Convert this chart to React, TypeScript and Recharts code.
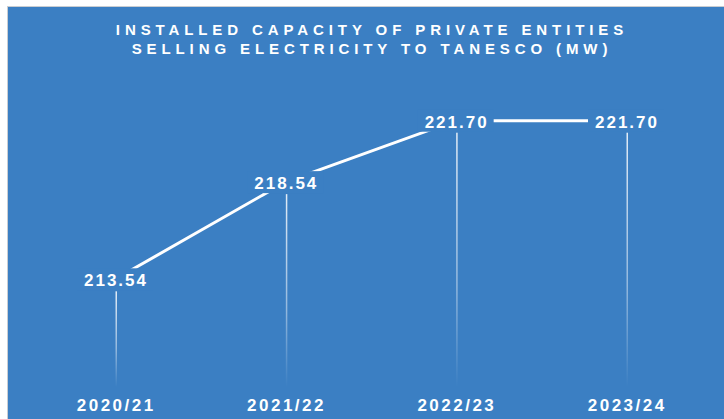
import React from 'react';
import { LineChart, Line, XAxis, YAxis, LabelList } from 'recharts';

// data
const years = ['2020/21', '2021/22', '2022/23', '2023/24'];
const capacity = [213.54, 218.54, 221.7, 221.7];

const chartData = years.map((year, i) => ({ year, capacity: capacity[i] }));

const BLUE = '#3b7fc3';
const FONT = '"Liberation Sans", Arial, Helvetica, sans-serif';
const PLOT_BOTTOM = 380;

const YearTick = (props: any) => {
    const { x, y, payload } = props;
    return (
        <text
            x={x + 1.2}
            y={y}
            dy="0.71em"
            textAnchor="middle"
            fill="#ffffff"
            fontSize={17}
            fontWeight={700}
            fontFamily={FONT}
            letterSpacing={2.5}
        >
            {payload.value}
        </text>
    );
};

// value label sits on the point with a blue box behind it, plus a fading drop line
const ValueLabel = (props: any) => {
    const { x, y, value } = props;
    return (
        <g>
            <rect x={x + 0.5} y={y + 12} width={1.5} height={PLOT_BOTTOM - y - 12} fill="url(#dropFade)" />
            <rect x={x - 38} y={y - 11} width={76} height={22} fill={BLUE} />
            <text
                x={x + 1}
                y={y + 7}
                textAnchor="middle"
                fill="#ffffff"
                fontSize={17}
                fontWeight={700}
                fontFamily={FONT}
                letterSpacing={2}
            >
                {Number(value).toFixed(2)}
            </text>
        </g>
    );
};

export default function App() {
    return (
        <div
            style={{
                position: 'fixed',
                left: 7,
                top: 6,
                borderTop: '1px solid #c9cdd2',
                borderLeft: '1px solid #c9cdd2',
                background: BLUE,
                width: 716,
                height: 412,
            }}
        >
            <div
                style={{
                    position: 'absolute',
                    top: 12.7,
                    left: 0,
                    width: 716,
                    boxSizing: 'border-box',
                    paddingLeft: 12,
                    textAlign: 'center',
                    color: '#ffffff',
                    fontFamily: FONT,
                    fontWeight: 700,
                    fontSize: 15,
                    lineHeight: '19px',
                    letterSpacing: 4.9,
                }}
            >
                <div>INSTALLED CAPACITY OF PRIVATE ENTITIES</div>
                <div>SELLING ELECTRICITY TO TANESCO (MW)</div>
            </div>
            <LineChart width={716} height={412} data={chartData} margin={{ top: 69, right: 0, bottom: 1, left: 0 }}>
                <defs>
                    <linearGradient id="dropFade" x1="0" y1="0" x2="0" y2="1">
                        <stop offset="0%" stopColor="#ffffff" stopOpacity={0.85} />
                        <stop offset="60%" stopColor="#ffffff" stopOpacity={0.45} />
                        <stop offset="100%" stopColor="#ffffff" stopOpacity={0} />
                    </linearGradient>
                </defs>
                <XAxis
                    dataKey="year"
                    height={31}
                    axisLine={false}
                    tickLine={false}
                    tickMargin={6}
                    padding={{ left: 107, right: 98 }}
                    tick={<YearTick />}
                    interval={0}
                />
                <YAxis hide type="number" domain={[208, 224]} />
                <Line
                    type="linear"
                    dataKey="capacity"
                    stroke="#ffffff"
                    strokeWidth={3}
                    dot={false}
                    activeDot={false}
                    isAnimationActive={false}
                >
                    <LabelList dataKey="capacity" content={<ValueLabel />} />
                </Line>
            </LineChart>
        </div>
    );
}
